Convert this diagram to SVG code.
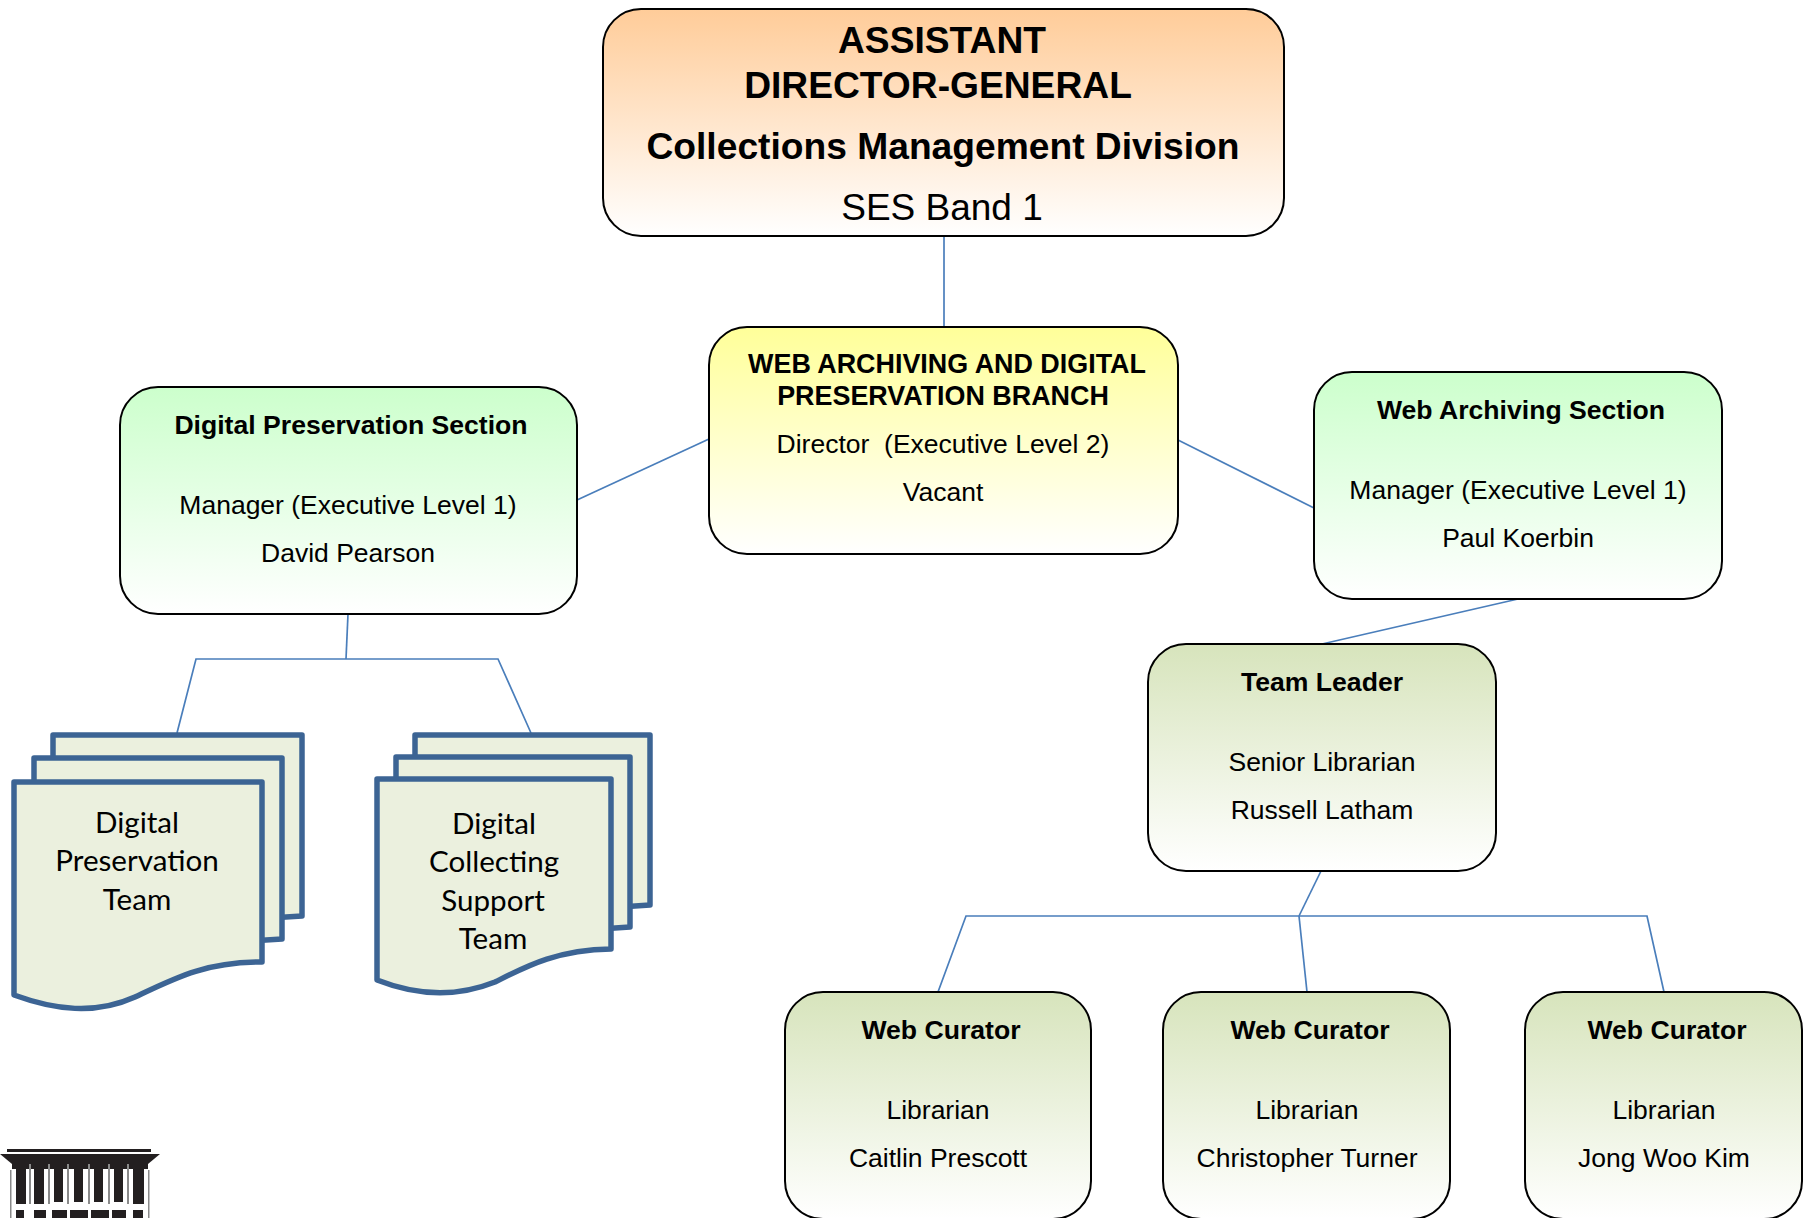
<svg xmlns="http://www.w3.org/2000/svg" width="1810" height="1218" viewBox="0 0 1810 1218">
<style>
text{font-family:"Liberation Sans",Arial,sans-serif;fill:#000;text-anchor:middle}
.b{font-weight:bold;font-size:26.6px}
.n{font-size:26.5px}
.h{font-weight:bold;font-size:37.2px}
.s{font-size:37px}
.d{font-family:Lato,"Open Sans",sans-serif;font-size:29.6px}
.box{stroke:#000;stroke-width:2}
.doc{fill:#ebf0de;stroke:#3c6494;stroke-width:5.5;stroke-linejoin:round}
.c{fill:none;stroke:#4a7ebb;stroke-width:1.7}
.lg{fill:#231f20}
.lt{fill:#8a8a8a}
</style>
<defs>
<linearGradient id="gO" x1="0" y1="0" x2="0" y2="1"><stop offset="0" stop-color="#ffcc99"/><stop offset="1" stop-color="#fff"/></linearGradient>
<linearGradient id="gY" x1="0" y1="0" x2="0" y2="1"><stop offset="0" stop-color="#ffff99"/><stop offset="1" stop-color="#fff"/></linearGradient>
<linearGradient id="gG" x1="0" y1="0" x2="0" y2="1"><stop offset="0" stop-color="#ccffcc"/><stop offset="1" stop-color="#fff"/></linearGradient>
<linearGradient id="gL" x1="0" y1="0" x2="0" y2="1"><stop offset="0" stop-color="#d7e4bc"/><stop offset="1" stop-color="#fff"/></linearGradient>
</defs>
<g id="connectors">
<path class="c" d="M944 236V327"/>
<path class="c" d="M577 500L709 439"/>
<path class="c" d="M1178 440L1314 508"/>
<path class="c" d="M1518 599L1322 644"/>
<path class="c" d="M348 614L346 659"/>
<path class="c" d="M177 733L196 659H498L531 733"/>
<path class="c" d="M1321 871L1299 916"/>
<path class="c" d="M938 992L966 916H1647L1664 992"/>
<path class="c" d="M1299 916L1307 992"/>
</g>
<g id="node-adg">
<rect class="box" x="603" y="9" width="681" height="227" rx="38" fill="url(#gO)"/>
<text class="h" x="942" y="53">ASSISTANT</text>
<text class="h" x="938" y="98">DIRECTOR-GENERAL</text>
<text class="h" x="943" y="159">Collections Management Division</text>
<text class="s" x="942" y="220">SES Band 1</text>
</g>
<g id="node-branch">
<rect class="box" x="709" y="327" width="469" height="227" rx="38" fill="url(#gY)"/>
<text class="b" x="947" y="373" style="font-size:26.9px">WEB ARCHIVING AND DIGITAL</text>
<text class="b" x="943" y="405" style="font-size:26.9px">PRESERVATION BRANCH</text>
<text class="n" x="943" y="453" xml:space="preserve">Director  (Executive Level 2)</text>
<text class="n" x="943" y="501">Vacant</text>
</g>
<g id="node-dp">
<rect class="box" x="120" y="387" width="457" height="227" rx="38" fill="url(#gG)"/>
<text class="b" x="351" y="434">Digital Preservation Section</text>
<text class="n" x="348" y="514">Manager (Executive Level 1)</text>
<text class="n" x="348" y="562">David Pearson</text>
</g>
<g id="node-wa">
<rect class="box" x="1314" y="372" width="408" height="227" rx="38" fill="url(#gG)"/>
<text class="b" x="1521" y="419">Web Archiving Section</text>
<text class="n" x="1518" y="499">Manager (Executive Level 1)</text>
<text class="n" x="1518" y="547">Paul Koerbin</text>
</g>
<g id="node-tl">
<rect class="box" x="1148" y="644" width="348" height="227" rx="38" fill="url(#gL)"/>
<text class="b" x="1322" y="691">Team Leader</text>
<text class="n" x="1322" y="771">Senior Librarian</text>
<text class="n" x="1322" y="819">Russell Latham</text>
</g>
<g id="node-wc1">
<rect class="box" x="785" y="992" width="306" height="227" rx="38" fill="url(#gL)"/>
<text class="b" x="941" y="1039">Web Curator</text>
<text class="n" x="938" y="1119">Librarian</text>
<text class="n" x="938" y="1167">Caitlin Prescott</text>
</g>
<g id="node-wc2">
<rect class="box" x="1163" y="992" width="287" height="227" rx="38" fill="url(#gL)"/>
<text class="b" x="1310" y="1039">Web Curator</text>
<text class="n" x="1307" y="1119">Librarian</text>
<text class="n" x="1307" y="1167">Christopher Turner</text>
</g>
<g id="node-wc3">
<rect class="box" x="1525" y="992" width="277" height="227" rx="38" fill="url(#gL)"/>
<text class="b" x="1667" y="1039">Web Curator</text>
<text class="n" x="1664" y="1119">Librarian</text>
<text class="n" x="1664" y="1167">Jong Woo Kim</text>
</g>
<g id="node-dpt">
<path class="doc" d="M53 735H302V916L270 918C225 925 200 945 165 962L53 950Z"/>
<path class="doc" d="M34 758H282V939L250 941C205 948 180 968 145 985L34 973Z"/>
<path class="doc" d="M14 782H262V962C205 962 175 978 135 997C95 1015 55 1010 14 995Z"/>
<text class="d" x="137" y="833">Digital</text>
<text class="d" x="137" y="871">Preservation</text>
<text class="d" x="137" y="910">Team</text>
</g>
<g id="node-dcst">
<path class="doc" d="M415 735H650V905L620 907C580 912 555 930 520 945L415 935Z"/>
<path class="doc" d="M396 757H630V927L600 929C560 934 535 952 500 967L396 957Z"/>
<path class="doc" d="M377 779H611V949C555 950 525 967 495 982C455 998 415 995 377 980Z"/>
<text class="d" x="494" y="834">Digital</text>
<text class="d" x="494" y="872">Collecting</text>
<text class="d" x="493" y="911">Support</text>
<text class="d" x="493" y="949">Team</text>
</g>
<g id="logo">
<rect class="lg" x="7" y="1149" width="144" height="3"/>
<path class="lg" d="M0 1154H160L148 1164H12Z"/>
<path class="lg" d="M12 1164H148V1169H12Z"/>
<rect class="lg" x="16" y="1164" width="10" height="40"/>
<rect class="lg" x="34" y="1164" width="10" height="40"/>
<rect class="lg" x="54" y="1164" width="9" height="38"/>
<rect class="lg" x="74" y="1164" width="9" height="38"/>
<rect class="lg" x="94" y="1164" width="9" height="38"/>
<rect class="lg" x="114" y="1164" width="9" height="38"/>
<rect class="lg" x="133" y="1164" width="11" height="40"/>
<rect class="lt" x="10" y="1170" width="1.5" height="48"/>
<rect class="lt" x="29" y="1164" width="2" height="40"/>
<rect class="lt" x="48" y="1164" width="2" height="40"/>
<rect class="lt" x="67" y="1164" width="2" height="40"/>
<rect class="lt" x="88" y="1164" width="2" height="40"/>
<rect class="lt" x="108" y="1164" width="2" height="40"/>
<rect class="lt" x="127" y="1164" width="2" height="40"/>
<rect class="lt" x="148" y="1170" width="1.5" height="48"/>
<rect class="lg" x="16" y="1210" width="8" height="8"/>
<rect class="lg" x="34" y="1210" width="12" height="8"/>
<rect class="lg" x="52" y="1210" width="15" height="8"/>
<rect class="lg" x="70" y="1210" width="18" height="8"/>
<rect class="lg" x="91" y="1210" width="18" height="8"/>
<rect class="lg" x="112" y="1210" width="14" height="8"/>
<rect class="lg" x="133" y="1210" width="10" height="8"/>
</g>
</svg>
